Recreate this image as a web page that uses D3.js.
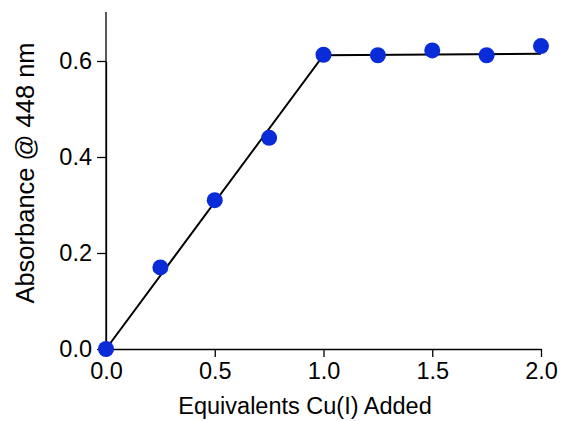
<!DOCTYPE html>
<html>
<head>
<meta charset="utf-8">
<script src="https://cdn.jsdelivr.net/npm/d3@7"></script>
<style>
body { margin: 0; background: #fff; }
svg text { font-family: "Liberation Sans", Arial, sans-serif; fill: #000; }
.axis path, .axis line { stroke: #000; stroke-width: 1.3; }
</style>
</head>
<body>
<div class="chart"></div>
<script>
var equiv = [0, 0.25, 0.5, 0.75, 1.0, 1.25, 1.5, 1.75, 2.0];
var absorb = [0, 0.17, 0.31, 0.44, 0.613, 0.612, 0.622, 0.612, 0.631];
var fitX = [0, 1.0, 2.0];
var fitY = [0, 0.612, 0.615];
var xTicks = [0, 0.5, 1.0, 1.5, 2.0];
var yTicks = [0, 0.2, 0.4, 0.6];

var width = 562,
height = 421;

var svg = d3.select('div.chart')
	.append('svg')
	.attr('width', width)
	.attr('height', height);

var x = d3.scaleLinear()
	.domain([0, 2])
	.range([106, 541]);

var y = d3.scaleLinear()
	.domain([0, 0.6])
	.range([349, 61]);

// axes
svg.append("g")
	.attr("class", "axis")
	.attr("transform", "translate(0," + y(0) + ")")
	.call(d3.axisBottom(x)
		.tickValues(xTicks)
		.tickSize(8)
		.tickSizeOuter(0)
		.tickPadding(5)
		.tickFormat(d3.format(".1f")));

svg.append("g")
	.attr("class", "axis")
	.attr("transform", "translate(" + x(0) + ",0)")
	.call(d3.axisLeft(y)
		.tickValues(yTicks)
		.tickSize(9)
		.tickSizeOuter(0)
		.tickPadding(5)
		.tickFormat(d3.format(".1f")));

// extend y axis line up to the top
svg.append("line")
	.attr("x1", x(0)).attr("x2", x(0))
	.attr("y1", 12).attr("y2", y(0))
	.attr("stroke", "#000")
	.attr("stroke-width", 1.3);

svg.selectAll(".axis text")
	.style("font-size", "23.5px");

svg.append("text")
	.attr("text-anchor", "middle")
	.attr("transform", "translate(" + 305 + "," + 414 + ")")
	.style("font-size", "23.5px")
	.text("Equivalents Cu(I) Added");

svg.append("text")
	.attr("text-anchor", "middle")
	.attr("transform", "translate(" + 34 + "," + 173 + ") rotate(-90)")
	.style("font-size", "25.5px")
	.text("Absorbance @ 448 nm");

// fit line
var line = d3.line()
	.x(function(d, i){ return x(fitX[i]); })
	.y(function(d){ return y(d); });

svg.append("path")
	.datum(fitY)
	.attr("d", line)
	.attr("fill", "none")
	.attr("stroke", "#000")
	.attr("stroke-width", 2);

// data points
svg.append("g")
	.selectAll("circle")
	.data(absorb)
	.enter()
	.append("circle")
	.attr("cx", function(d, i){ return x(equiv[i]); })
	.attr("cy", function(d){ return y(d); })
	.attr("r", 8)
	.attr("fill", "#0a2bd8");
</script>
</body>
</html>
